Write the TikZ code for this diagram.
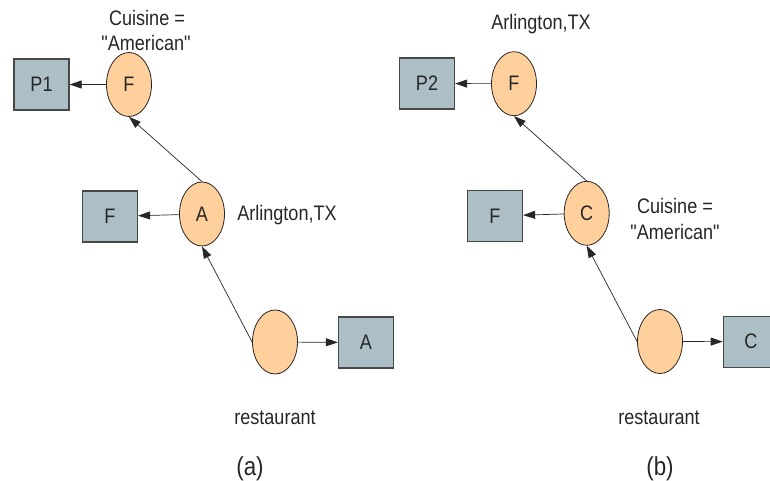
\documentclass[tikz,border=0pt]{standalone}
\usepackage{fontspec}
\setmainfont{Liberation Sans}[FakeStretch=0.86, Ligatures=TeXOff]
\usetikzlibrary{shapes.geometric,arrows.meta}
\definecolor{peach}{HTML}{FFCF9C}
\definecolor{slate}{HTML}{ADBFC6}
\definecolor{ink}{HTML}{262626}
\begin{document}
\begin{tikzpicture}[x=1pt,y=-1pt,
  lbl/.style={font=\fontsize{21}{25}\selectfont, text=ink, inner sep=0pt},
  caption/.style={font=\fontsize{26}{30}\selectfont, text=ink, inner sep=0pt},
  blob/.style={ellipse, draw=ink, line width=0.8pt, fill=peach,
    minimum width=45pt, minimum height=64pt, lbl},
  rec/.style={rectangle, draw=ink!85, line width=1.3pt, fill=slate,
    minimum width=55pt, minimum height=51pt, lbl},
  link/.style={draw=ink, line width=0.7pt, -{Triangle[length=12pt,width=8pt]}}]
\useasboundingbox (0,0) rectangle (770,481);
\clip (0,0) rectangle (770,481);

% ---- (a) ----
\node[blob] (fa) at (129,84.5) {F};
\node[rec]  (p1) at (41.5,84.5) {P1};
\node[blob] (aa) at (202,214) {A};
\node[rec]  (fboxa) at (110,216.5) {F};
\node[blob] (ra) at (275,342) {};
\node[rec]  (abox) at (366,342.5) {A};

\node[lbl, anchor=base] (cuisa1) at (147,26) {Cuisine =};
\node[lbl, anchor=base] (cuisa2) at (146,50.7) {"American"};
\node[lbl, anchor=base] (arla) at (287,220) {Arlington,TX};
\node[lbl, anchor=base] (resta) at (275,424) {restaurant};
\node[caption, anchor=base] (capa) at (250,475) {(a)};

\draw[link] (fa) -- (p1);
\draw[link] (aa) -- (fboxa);
\draw[link] (ra) -- (abox);
\draw[link] (aa.north) -- (fa.south);
\draw[link] (ra.west) -- (aa.south);

% ---- (b) ----
\node[blob] (fb) at (514,83.7) {F};
\node[rec]  (p2) at (427,83.5) {P2};
\node[blob] (cb) at (586.7,213.3) {C};
\node[rec]  (fboxb) at (495,216) {F};
\node[blob] (rb) at (660,341.5) {};
\node[rec]  (cbox) at (750.8,341.7) {C};

\node[lbl, anchor=base] (arlb) at (541,30) {Arlington,TX};
\node[lbl, anchor=base] (cuisb1) at (675,213.3) {Cuisine =};
\node[lbl, anchor=base] (cuisb2) at (675,239.3) {"American"};
\node[lbl, anchor=base] (restb) at (659,424) {restaurant};
\node[caption, anchor=base] (capb) at (660,475) {(b)};

\draw[link] (fb) -- (p2);
\draw[link] (cb) -- (fboxb);
\draw[link] (rb) -- (cbox);
\draw[link] (cb.north) -- (fb.south);
\draw[link] (rb.west) -- (cb.south);
\end{tikzpicture}
\end{document}
